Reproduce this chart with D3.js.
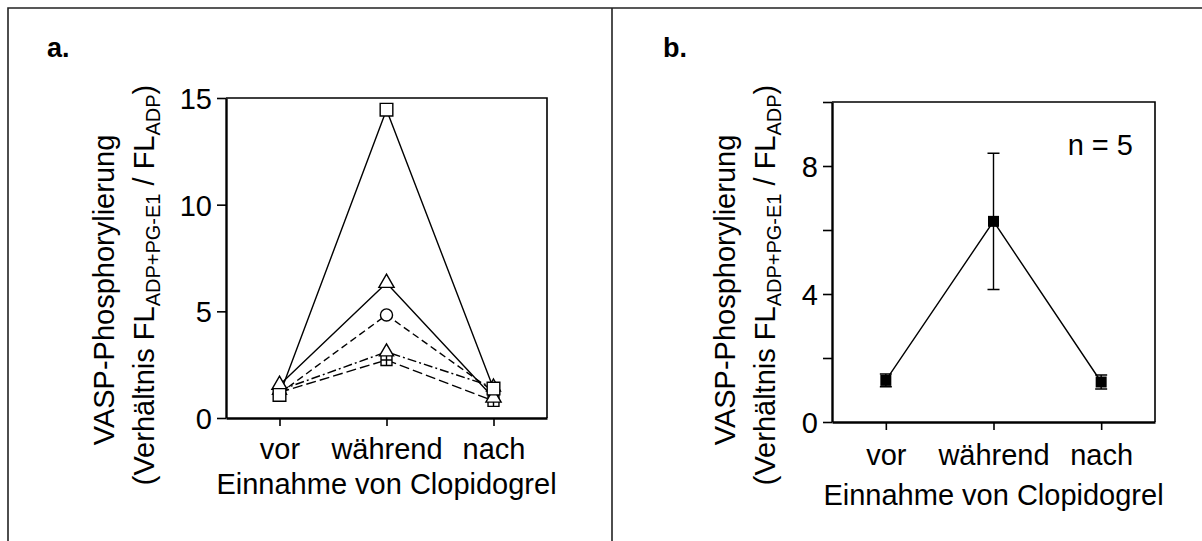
<!DOCTYPE html>
<html>
<head>
<meta charset="utf-8">
<script src="https://cdn.jsdelivr.net/npm/d3@7"></script>
<style>
    body { margin: 0; background: #fff; }
    text { font-family: "Liberation Sans", Arial, sans-serif; fill: #000; }
    .axis path, .axis line { stroke: #000; }
    .axis text { font-size: 29px; font-family: "Liberation Sans", Arial, sans-serif; fill: #000; }
</style>
</head>
<body>
<script>
/* global d3 */

var width = 1202;
var height = 541;

// categories and values
var categories = ["vor", "während", "nach"];

// panel a: five individual subjects
var subj1 = [1.08, 14.45, 1.38];
var subj2 = [1.55, 6.33, 0.95];
var subj3 = [1.15, 4.83, 1.25];
var subj4 = [1.3, 3.1, 1.45];
var subj5 = [1.2, 2.72, 0.8];

// panel b: mean and SD, n = 5
var meanB = [1.3, 6.27, 1.25];
var sdB = [0.2, 2.13, 0.22];

var yTicksA = [0, 5, 10, 15];
var yTicksB = [0, 2, 4, 6, 8, 10];
var yLabelsB = [0, 4, 8];

var svg = d3.select("body")
        .append("svg")
        .attr("width", width)
        .attr("height", height);

// frame lines
svg.append("path")
        .attr("d", "M8,541V8H1202M612,8V541")
        .attr("fill", "none")
        .attr("stroke", "#222")
        .attr("stroke-width", 1.6);

var boxA = {left: 226, right: 547, top: 98, bottom: 418};
var boxB = {left: 832, right: 1155, top: 102, bottom: 422};

// crossed square marker
var symbolCrossSquare = {
    draw: function (ctx, size) {
        var r = Math.sqrt(size) / 2;
        ctx.moveTo(-r, -r);
        ctx.lineTo(r, -r);
        ctx.lineTo(r, r);
        ctx.lineTo(-r, r);
        ctx.closePath();
        ctx.moveTo(-r, 0);
        ctx.lineTo(r, 0);
        ctx.moveTo(0, -r);
        ctx.lineTo(0, r);
    }
};

function drawFrame(g, box, x, y, ticks, labels, xPad) {
    // top and right border
    g.append("path")
            .attr("d", "M" + box.left + "," + box.top + "H" + box.right + "V" + box.bottom)
            .attr("fill", "none")
            .attr("stroke", "#000")
            .attr("stroke-width", 1.6);

    var yAxis = d3.axisLeft(y)
            .tickValues(ticks)
            .tickSize(9)
            .tickSizeOuter(0)
            .tickPadding(5)
            .tickFormat(function (d) {
                return labels.indexOf(d) >= 0 ? d : "";
            });
    g.append("g")
            .classed("axis axis--y", true)
            .attr("transform", "translate(" + box.left + ",0)")
            .call(yAxis)
            .call(function (s) {
                s.select(".domain").attr("stroke-width", 2.4);
                s.selectAll(".tick line").attr("stroke-width", 1.6);
                s.selectAll(".tick text").attr("dy", "0.36em");
            });

    var xAxis = d3.axisBottom(x)
            .tickSize(8)
            .tickSizeOuter(0)
            .tickPadding(xPad);
    g.append("g")
            .classed("axis axis--x", true)
            .attr("transform", "translate(0," + box.bottom + ")")
            .call(xAxis)
            .call(function (s) {
                s.select(".domain").attr("stroke-width", 2.4);
                s.selectAll(".tick line").attr("stroke-width", 1.6);
            });
}

function yTitle(g, cx, cy) {
    g.append("text")
            .attr("transform", "translate(" + cx + "," + cy + ") rotate(-90)")
            .attr("text-anchor", "middle")
            .style("font-size", "29px")
            .text("VASP-Phosphorylierung");
    var t2 = g.append("text")
            .attr("transform", "translate(" + (cx + 40) + "," + (cy - 5) + ") rotate(-90)")
            .attr("text-anchor", "middle")
            .style("font-size", "29px");
    t2.append("tspan").text("(Verhältnis FL");
    t2.append("tspan").attr("dy", 6).style("font-size", "20px").text("ADP+PG-E1");
    t2.append("tspan").attr("dy", -6).text(" / FL");
    t2.append("tspan").attr("dy", 6).style("font-size", "20px").text("ADP");
    t2.append("tspan").attr("dy", -6).text(")");
}

function xTitle(g, box, yPos) {
    g.append("text")
            .attr("x", (box.left + box.right) / 2)
            .attr("y", yPos)
            .attr("text-anchor", "middle")
            .style("font-size", "29px")
            .text("Einnahme von Clopidogrel");
}

// ---------- panel a ----------
var xA = d3.scalePoint().domain(categories).range([boxA.left, boxA.right]).padding(0.5);
var yA = d3.scaleLinear().domain([0, 15]).range([boxA.bottom, boxA.top]);

var gA = svg.append("g").classed("panel-a", true);
gA.append("text").attr("x", 47).attr("y", 57)
        .style("font-size", "27px").style("font-weight", "bold").text("a.");

var seriesA = [
    {values: subj1, dash: null, symbol: d3.symbolSquare, size: 160},
    {values: subj2, dash: null, symbol: d3.symbolTriangle, size: 100},
    {values: subj3, dash: "7,4", symbol: d3.symbolCircle, size: 115},
    {values: subj4, dash: "9,3,2,3", symbol: d3.symbolTriangle, size: 85},
    {values: subj5, dash: "10,4", symbol: symbolCrossSquare, size: 120}
];

var lineA = d3.line()
        .x(function (d, i) {
            return xA(categories[i]);
        })
        .y(function (d) {
            return yA(d);
        });

gA.selectAll(".series-line")
        .data(seriesA)
        .enter().append("path")
        .classed("series-line", true)
        .attr("d", function (d) {
            return lineA(d.values);
        })
        .attr("fill", "none")
        .attr("stroke", "#000")
        .attr("stroke-width", 1.4)
        .attr("stroke-dasharray", function (d) {
            return d.dash;
        });

// markers, last series first so subject 1 lies on top
seriesA.slice().reverse().forEach(function (s) {
    gA.selectAll(null)
            .data(s.values)
            .enter().append("path")
            .attr("transform", function (d, i) {
                return "translate(" + xA(categories[i]) + "," + yA(d) + ")";
            })
            .attr("d", d3.symbol().type(s.symbol).size(s.size))
            .attr("fill", "#fff")
            .attr("stroke", "#000")
            .attr("stroke-width", 1.4);
});

drawFrame(gA, boxA, xA, yA, yTicksA, yTicksA, 12);
yTitle(gA, 114, 290);
xTitle(gA, boxA, 494);

// ---------- panel b ----------
var xB = d3.scalePoint().domain(categories).range([boxB.left, boxB.right]).padding(0.5);
var yB = d3.scaleLinear().domain([0, 10]).range([boxB.bottom, boxB.top]);

var gB = svg.append("g").classed("panel-b", true);
gB.append("text").attr("x", 663).attr("y", 57)
        .style("font-size", "27px").style("font-weight", "bold").text("b.");

var lineB = d3.line()
        .x(function (d, i) {
            return xB(categories[i]);
        })
        .y(function (d) {
            return yB(d);
        });

gB.append("path")
        .datum(meanB)
        .attr("d", lineB)
        .attr("fill", "none")
        .attr("stroke", "#000")
        .attr("stroke-width", 1.4);

var errB = gB.selectAll(".err")
        .data(meanB)
        .enter().append("g")
        .classed("err", true)
        .attr("transform", function (d, i) {
            return "translate(" + xB(categories[i]) + ",0)";
        });
errB.append("path")
        .attr("d", function (d, i) {
            var hi = yB(d + sdB[i]), lo = yB(d - sdB[i]);
            return "M0," + hi + "V" + lo + "M-6," + hi + "H6M-6," + lo + "H6";
        })
        .attr("fill", "none")
        .attr("stroke", "#000")
        .attr("stroke-width", 1.4);
errB.append("path")
        .attr("transform", function (d) {
            return "translate(0," + yB(d) + ")";
        })
        .attr("d", d3.symbol().type(d3.symbolSquare).size(121))
        .attr("fill", "#000");

drawFrame(gB, boxB, xB, yB, yTicksB, yLabelsB, 14);
yTitle(gB, 735, 290);
xTitle(gB, boxB, 505);

gB.append("text")
        .attr("x", 1133)
        .attr("y", 155)
        .attr("text-anchor", "end")
        .style("font-size", "29px")
        .text("n = 5");
</script>
</body>
</html>
